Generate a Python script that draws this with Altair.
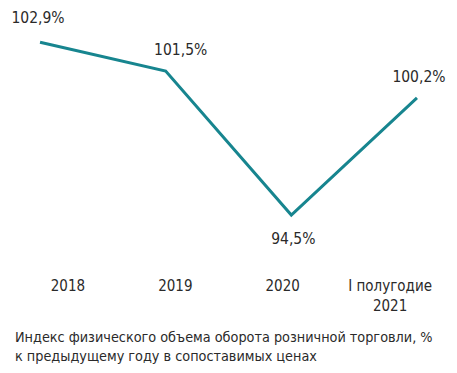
import altair as alt
import pandas as pd

categories = ["2018", "2019", "2020", "I полугодие\n2021"]
values = [102.9, 101.5, 94.5, 100.2]
value_labels = ["102,9%", "101,5%", "94,5%", "100,2%"]
caption = ["Индекс физического объема оборота розничной торговли, %",
           "к предыдущему году в сопоставимых ценах"]

df = pd.DataFrame({"cat": categories, "val": values, "lbl": value_labels,
                   "idx": list(range(len(categories)))})

FONT = "Liberation Sans Narrow, DejaVu Sans Condensed, Roboto, sans-serif"
TEAL = "#17858f"
TXT = "#2a2a2a"

y = alt.Y("val:Q", scale=alt.Scale(domain=[91.825, 104.568], nice=False, zero=False),
          axis=None)

x_line = alt.X("cat:N", sort=categories,
               scale=alt.Scale(type="point", padding=0.255, domain=categories),
               axis=None)

base = alt.Chart(df).encode(x=x_line, y=y)

line = base.mark_line(color=TEAL, strokeWidth=3, strokeJoin="miter")

def lab(cond, dx, dy):
    return base.transform_filter(cond).mark_text(
        font=FONT, fontSize=15.5, color=TXT, dx=dx, dy=dy, baseline="middle"
    ).encode(text="lbl:N")

t1 = lab("datum.idx == 0", -2, -24)
t2 = lab("datum.idx == 1", 15, -21)
t3 = lab("datum.idx == 2", 2, 24)
t4 = lab("datum.idx == 3", 2, -21)

series = alt.layer(line, t1, t2, t3, t4)

# category axis (labels sit on their own evenly spaced scale, as in the source)
axis_layer = alt.Chart(df).mark_point(opacity=0).encode(
    x=alt.X("cat:N", sort=categories,
            scale=alt.Scale(type="point", padding=0.553, domain=categories),
            axis=alt.Axis(title=None, orient="bottom", domain=False, ticks=False,
                          grid=False, labelAngle=0, labelFont=FONT,
                          labelFontSize=15, labelColor=TXT, labelPadding=8,
                          labelLineHeight=20,
                          labelExpr="split(datum.label, '\\n')")),
    y=y,
)

chart = alt.layer(series, axis_layer).resolve_scale(
    x="independent"
).properties(
    width=441, height=262,
    autosize=alt.AutoSizeParams(type="none"),
    padding={"left": 0, "right": 0, "top": 0, "bottom": 95},
    title=alt.TitleParams(text=caption, orient="bottom", anchor="start",
                          frame="group", font=FONT, fontSize=14.3,
                          fontWeight="normal", color=TXT, dx=7, offset=18,
                          lineHeight=19),
).configure_view(stroke=None)

chart.save("out.html", embed_options={"renderer": "svg", "actions": False})
